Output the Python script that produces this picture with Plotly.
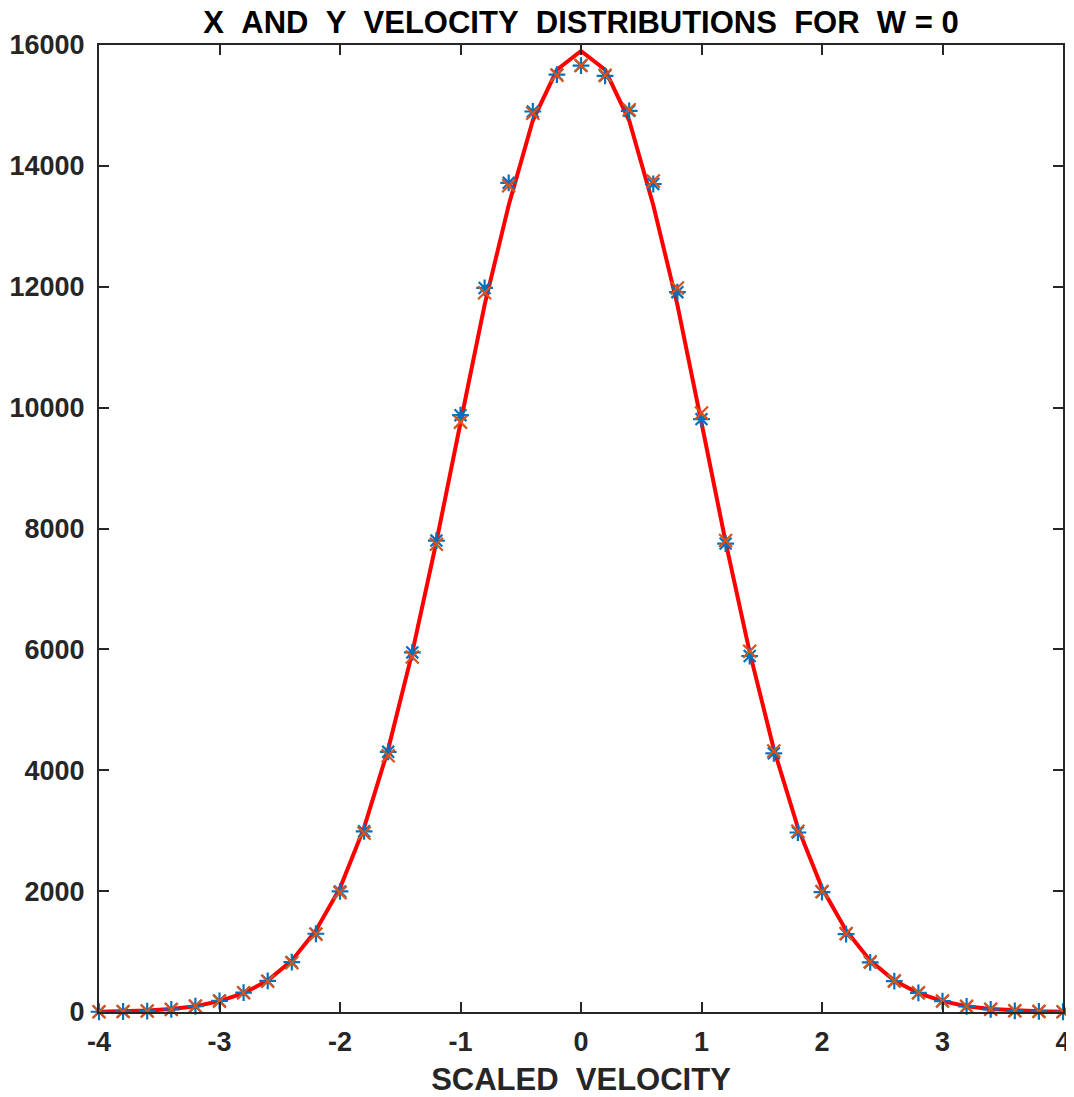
import plotly.graph_objects as go

# Data
velocity = [-4.0, -3.8, -3.6, -3.4, -3.2, -3.0, -2.8, -2.6, -2.4, -2.2, -2.0,
            -1.8, -1.6, -1.4, -1.2, -1.0, -0.8, -0.6, -0.4, -0.2, 0.0,
            0.2, 0.4, 0.6, 0.8, 1.0, 1.2, 1.4, 1.6, 1.8, 2.0,
            2.2, 2.4, 2.6, 2.8, 3.0, 3.2, 3.4, 3.6, 3.8, 4.0]

x_counts = [4, 8, 16, 45, 95, 185, 320, 515, 825, 1295, 1995,
            2990, 4305, 5950, 7800, 9875, 11980, 13720, 14900, 15510, 15660,
            15490, 14910, 13700, 11910, 9810, 7750, 5890, 4280, 2970, 1985,
            1290, 820, 510, 315, 180, 92, 45, 20, 9, 4]

y_counts = [5, 9, 15, 42, 98, 180, 318, 510, 815, 1285, 1975,
            2960, 4240, 5875, 7740, 9760, 11900, 13670, 14870, 15500, 15660,
            15500, 14930, 13750, 11980, 9910, 7800, 5970, 4320, 2990, 1995,
            1300, 830, 515, 320, 182, 95, 46, 20, 10, 5]

theory = [5, 12, 24, 48, 95, 180, 310, 520, 850, 1350, 2050,
          3050, 4350, 5950, 7780, 9750, 11700, 13350, 14750, 15590, 15900,
          15590, 14750, 13350, 11700, 9750, 7780, 5950, 4350, 3050, 2050,
          1350, 850, 520, 310, 180, 95, 48, 24, 12, 5]

x_ticks = [-4, -3, -2, -1, 0, 1, 2, 3, 4]
y_ticks = [0, 2000, 4000, 6000, 8000, 10000, 12000, 14000, 16000]

NB = "\u00a0\u00a0"
title_text = NB.join(["X", "AND", "Y", "VELOCITY", "DISTRIBUTIONS", "FOR", "W\u00a0=\u00a00"])
xlabel_text = NB.join(["SCALED", "VELOCITY"])

AX = "#262626"
FONT = "Liberation Sans, Arial, Helvetica, sans-serif"

fig = go.Figure()
fig.add_trace(go.Scatter(x=velocity, y=theory, mode="lines",
                         line=dict(color="#FF0000", width=4), showlegend=False,
                         cliponaxis=False))
fig.add_trace(go.Scatter(x=velocity, y=x_counts, mode="markers",
                         marker=dict(symbol="asterisk-open", size=14, color="#0072BD",
                                     line=dict(color="#0072BD", width=2.2)),
                         showlegend=False, cliponaxis=False))
fig.add_trace(go.Scatter(x=velocity, y=y_counts, mode="markers",
                         marker=dict(symbol="x-thin-open", size=13, color="#D95319",
                                     line=dict(color="#D95319", width=2.2)),
                         showlegend=False, cliponaxis=False))

fig.update_layout(
    width=1066, height=1089,
    margin=dict(l=91, r=11, t=37, b=85, autoexpand=False),
    paper_bgcolor="white", plot_bgcolor="white",
    font=dict(family=FONT, color=AX, size=27),
    title=dict(text="<b>" + title_text + "</b>", x=0.5, xref="paper",
               y=1.0, yref="container", yanchor="top", pad=dict(t=3),
               font=dict(size=31, color="black", family=FONT)),
    xaxis=dict(range=[-4, 4], tickvals=x_ticks, ticktext=["<b>%d</b>" % v for v in x_ticks],
               automargin=False,
               showgrid=False, zeroline=False, showline=True, linecolor=AX, linewidth=2,
               mirror="ticks", ticks="inside", ticklen=10, tickwidth=2, tickcolor=AX,
               ticklabelstandoff=5,
               tickfont=dict(size=27, color=AX, family=FONT),
               title=dict(text="<b>" + xlabel_text + "</b>", standoff=12,
                          font=dict(size=31, color=AX, family=FONT))),
    yaxis=dict(range=[0, 16000], tickvals=y_ticks, ticktext=["<b>%d</b>" % v for v in y_ticks],
               automargin=False,
               showgrid=False, zeroline=False, showline=True, linecolor=AX, linewidth=2,
               mirror="ticks", ticks="inside", ticklen=10, tickwidth=2, tickcolor=AX,
               ticklabelstandoff=7,
               tickfont=dict(size=27, color=AX, family=FONT)),
)

fig.write_html("out.html")
